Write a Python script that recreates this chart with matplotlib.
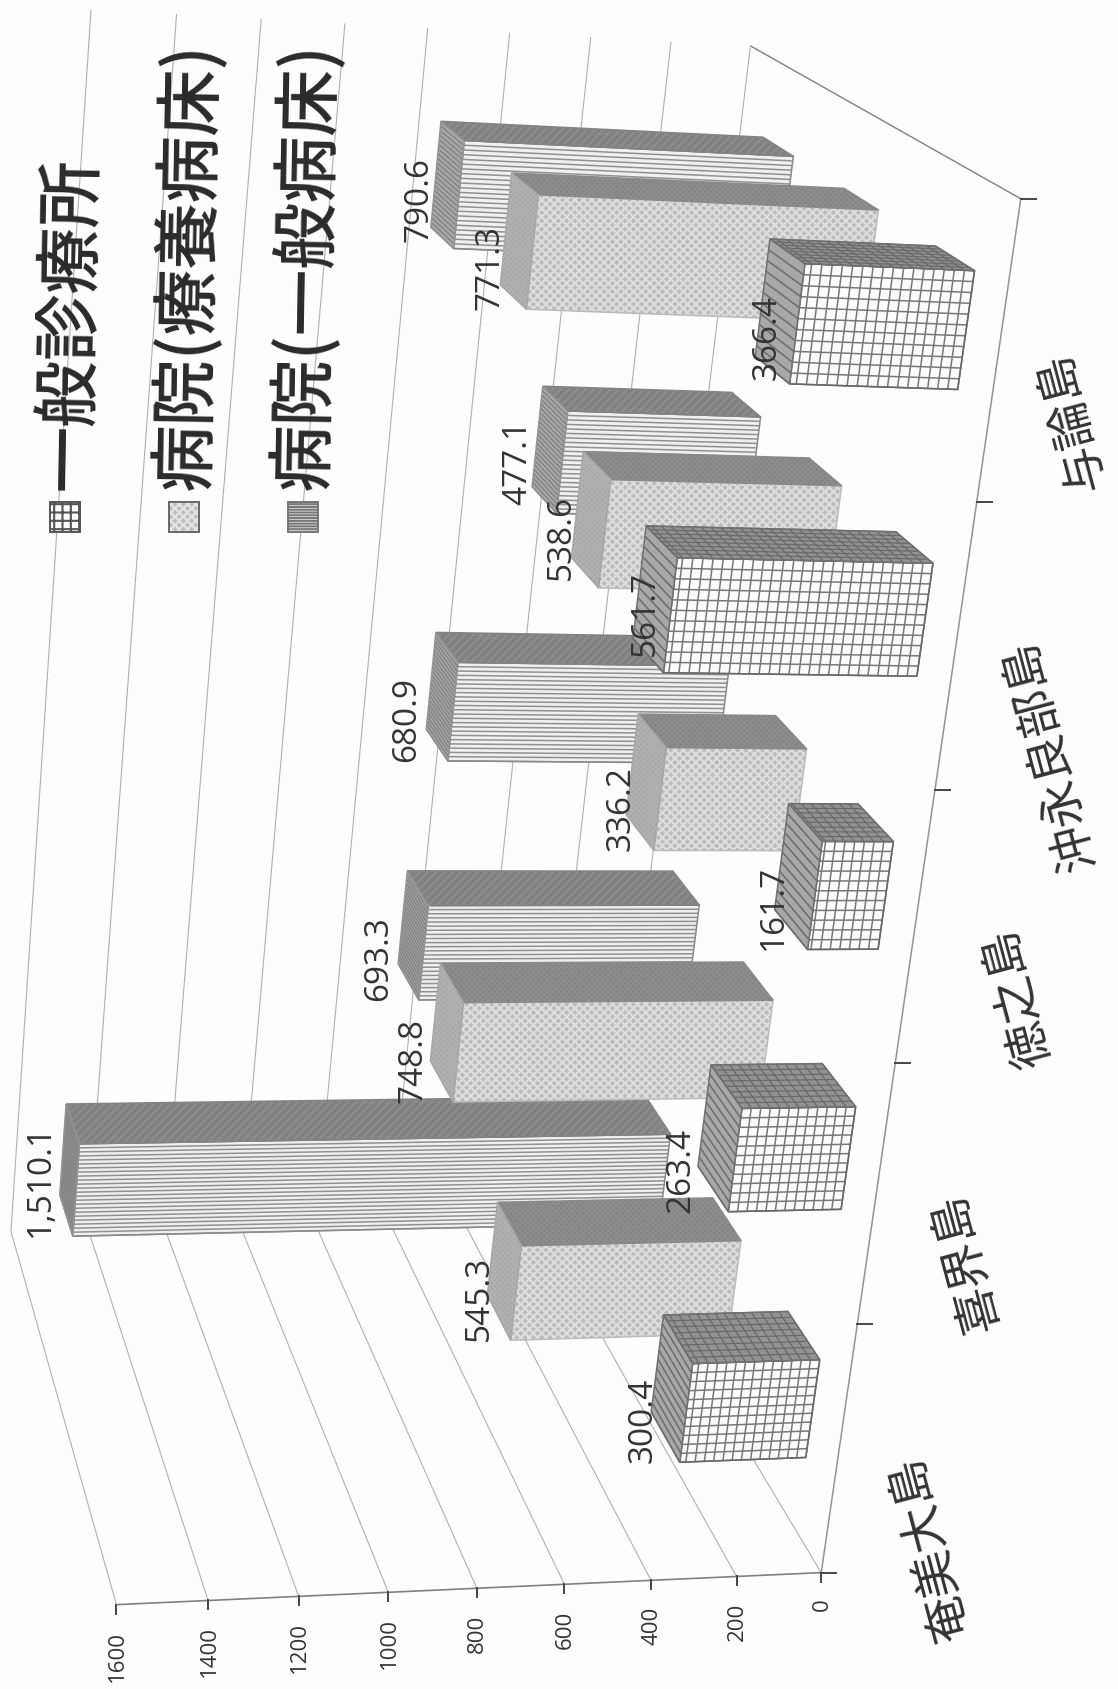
import numpy as np
import matplotlib
matplotlib.use('Agg')
import matplotlib.pyplot as plt
from matplotlib.patches import Polygon
from matplotlib.collections import LineCollection

# data
categories = ['奄美大島', '喜界島', '徳之島', '沖永良部島', '与論島']
series_names = ['一般診療所', '病院(療養病床)', '病院(一般病床)']
clinic = [300.4, 263.4, 161.7, 561.7, 366.4]
hosp_longterm = [545.3, 748.8, 336.2, 538.6, 771.3]
hosp_general = [1510.1, 693.3, 680.9, 477.1, 790.6]
value_ticks = [0, 200, 400, 600, 800, 1000, 1200, 1400, 1600]

# layout: where the 3D box of the chart lands on the page (category, depth, value) -> pixel
anchors = [
    (0, 0, 0, 819, 1571), (1, 0, 0, 857, 1324), (2, 0, 0, 895, 1064), (3, 0, 0, 934, 791),
    (4, 0, 0, 980, 503), (5, 0, 0, 1022, 200), (0, 0, 800, 476, 1591), (0, 0, 1600, 117, 1607),
    (0, 1, 0, 612, 1222), (5, 1, 0, 747, 46), (0, 1, 1600, 10, 1230), (5, 1, 1600, 92, 11),
]
rows = []
for c, s, v, u, w in anchors:
    X = [c, s, v / 1600, 1]
    rows.append([*X, 0, 0, 0, 0, *[-u / 1000 * k for k in X]])
    rows.append([0, 0, 0, 0, *X, *[-w / 1000 * k for k in X]])
P = np.linalg.svd(np.array(rows))[2][-1].reshape(3, 4)


def project(c, s, v):
    h = P @ np.array([c, s, v / 1600, 1.0])
    return h[0] / h[2] * 1000, h[1] / h[2] * 1000


plt.rcParams['hatch.linewidth'] = 1.5
fig = plt.figure(figsize=(11.18, 16.90), dpi=100, facecolor='#fdfdfd')
ax = fig.add_axes([0, 0, 1, 1])
ax.set_xlim(0, 1118)
ax.set_ylim(1690, 0)
ax.axis('off')

cjk = ['Noto Sans CJK JP', 'DejaVu Sans']
latin = ['Open Sans', 'DejaVu Sans']
z = [10]


def line(a, b, color='#b0b0b0', lw=0.8, zorder=2):
    xa, ya = project(*a)
    xb, yb = project(*b)
    ax.plot([xa, xb], [ya, yb], color=color, lw=lw, zorder=zorder, solid_capstyle='butt')


def face(corners, fill, edge='#808080', hatch=None, hatch_color='#e8e8e8', lines=None, line_color='#666666', lw=0.9):
    z[0] += 1
    xy = [project(*p) for p in corners]
    if hatch:
        ax.add_patch(Polygon(xy, closed=True, facecolor=fill, edgecolor=hatch_color, hatch=hatch, lw=0, zorder=z[0]))
    else:
        ax.add_patch(Polygon(xy, closed=True, facecolor=fill, edgecolor='none', zorder=z[0]))
    if lines:
        segs = [[project(*a), project(*b)] for a, b in lines]
        ax.add_collection(LineCollection(segs, colors=line_color, linewidths=lw, zorder=z[0] + 0.1))
    ax.add_patch(Polygon(xy, closed=True, fill=False, edgecolor=edge, lw=1.1, zorder=z[0] + 0.2))


def draw_bar(c0, c1, s0, s1, v, kind):
    front = [(c0, s0, 0), (c1, s0, 0), (c1, s0, v), (c0, s0, v)]
    side = [(c1, s0, 0), (c1, s1, 0), (c1, s1, v), (c1, s0, v)]
    top = [(c0, s0, v), (c1, s0, v), (c1, s1, v), (c0, s1, v)]
    if kind == 0:
        cs = np.linspace(c0, c1, 12)
        ss = np.linspace(s0, s1, 9)
        vs = np.arange(0, v, 22)
        face(front, '#fbfbfb', '#666666',
             lines=[((k, s0, 0), (k, s0, v)) for k in cs] + [((c0, s0, k), (c1, s0, k)) for k in vs],
             line_color='#777777', lw=1.1)
        face(side, '#929292', '#707070',
             lines=[((c1, k, 0), (c1, k, v)) for k in ss] + [((c1, s0, k), (c1, s1, k)) for k in vs],
             line_color='#6a6a6a', lw=0.9)
        face(top, '#a8a8a8', '#707070', lines=[((k, s0, v), (k, s1, v)) for k in cs],
             line_color='#707070', lw=1.2)
    elif kind == 1:
        face(front, '#bcbcbc', '#bcbcbc', hatch='xxxx', hatch_color='#dedede')
        face(side, '#808080', '#8a8a8a', hatch='xxxxxx', hatch_color='#8c8c8c')
        face(top, '#a6a6a6', '#a6a6a6', hatch='xxxxxx', hatch_color='#b0b0b0')
    else:
        cs = np.linspace(c0, c1, 24)
        face(front, '#f0f0f0', '#8a8a8a', lines=[((k, s0, 0), (k, s0, v)) for k in cs],
             line_color='#919191', lw=1.1)
        face(side, '#828282', '#828282', hatch='////', hatch_color='#8e8e8e')
        face(top, '#a8a8a8', '#939393', lines=[((k, s0, v), (k, s1, v)) for k in cs],
             line_color='#858585', lw=1.1)


# walls and floor
for v in value_ticks:
    line((0, 0, v), (0, 1, v))
    line((0, 1, v), (5, 1, v))
    x, y = project(0, 0, v)
    ax.plot([x, x], [y, y + 9], color='#444444', lw=1.4, zorder=3)
    ax.text(x + 1, y + 25, str(v), rotation=90, ha='center', va='top', fontsize=16, color='#333333', family=latin)
line((0, 0, 0), (0, 0, 1600), '#808080', 1.2)
line((0, 0, 0), (5, 0, 0), '#939393', 1.1)
line((5, 0, 0), (5, 1, 0), '#808080', 1.0)
for c in range(6):
    x, y = project(c, 0, 0)
    ax.plot([x, x + 15], [y, y], color='#444444', lw=1.4, zorder=3)

# bars, back row first
all_series = [hosp_general, hosp_longterm, clinic]
kinds = [2, 1, 0]
row_front = [0.772, 0.437, 0.104]
depth = 0.13
# label nudges in pixels, same order as the series above
label_dx = [[-5, -5, -5, 0, 3], [7, -3, 9, 4, 4], [6, -3, 13, 27, 26]]
label_dy = [[0, 0, 0, -9, -8], [0, 0, 0, -9, 0], [0, 0, 0, -18, -5]]
labels = []
for vals, kind, s0, dxs, dys in zip(all_series, kinds, row_front, label_dx, label_dy):
    for i, v in enumerate(vals):
        c0, c1 = i + 0.3, i + 0.7
        draw_bar(c0, c1, s0, s0 + depth, v, kind)
        labels.append((project(c0, s0 + depth, v)[0] + dxs[i], project(c0, s0, v)[1] + dys[i], v))

for x, y, v in labels:
    ax.text(x + 2, y, f'{v:,.1f}', rotation=90, ha='right', va='bottom', fontsize=24,
            color='#333333', family=latin, zorder=500)

# category labels
cat_pos = [(931, 1548), (965, 1262), (1019, 997), (1051, 755), (1072, 421)]
for name, (x, y) in zip(categories, cat_pos):
    ax.text(x, y, name, rotation=105, ha='center', va='center', fontsize=34, color='#333333', family=cjk,
            rotation_mode='anchor', zorder=500)

# legend, swatches sit just under each rotated name
legend_x = [70, 189, 307]
swatch_x = [65, 184, 303]
for name, lx, sx, kind in zip(series_names, legend_x, swatch_x, [0, 1, 2]):
    ax.text(lx, 491, name, rotation=89, ha='center', va='bottom', fontsize=48, color='#2a2a2a', family=cjk,
            weight='medium', zorder=500)
    xy = [(sx - 15, 503), (sx + 15, 503), (sx + 15, 533), (sx - 15, 533)]
    if kind == 0:
        ax.add_patch(Polygon(xy, facecolor='#fbfbfb', edgecolor='#555555', lw=1.4, hatch='++', zorder=500))
    elif kind == 1:
        ax.add_patch(Polygon(xy, facecolor='#c0c0c0', edgecolor='#e6e6e6', lw=0, hatch='xxxx', zorder=500))
        ax.add_patch(Polygon(xy, facecolor='none', edgecolor='#666666', lw=1.4, zorder=501))
    else:
        ax.add_patch(Polygon(xy, facecolor='#f0f0f0', edgecolor='#777777', lw=1.4, hatch='------', zorder=500))

plt.savefig('out.png', dpi=100, facecolor=fig.get_facecolor())
